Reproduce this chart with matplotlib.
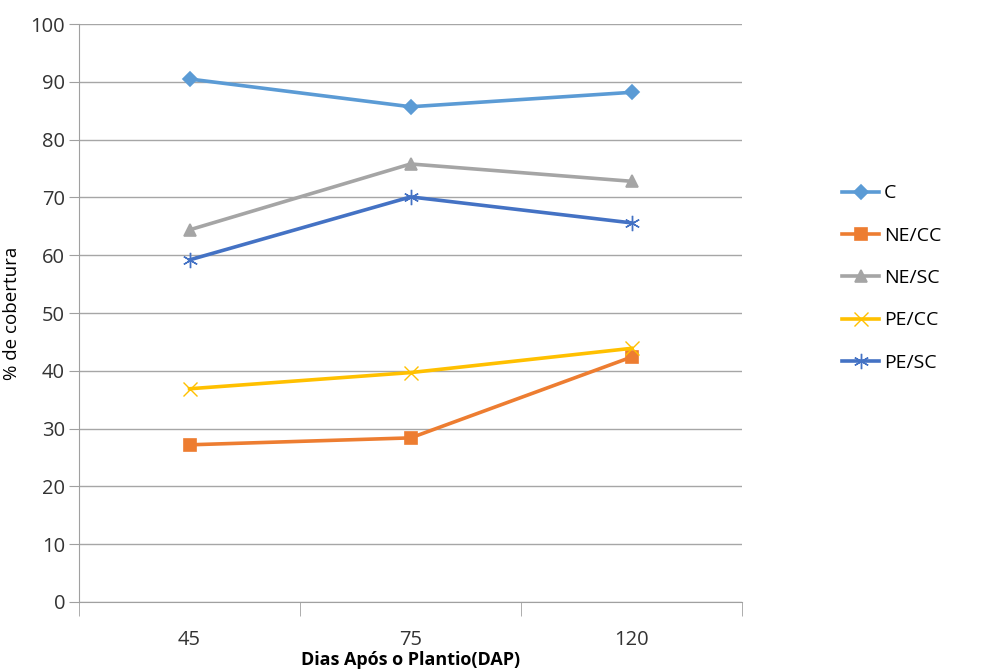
import numpy as np
import matplotlib.pyplot as plt
from matplotlib.lines import Line2D

days = ['45', '75', '120']
c_vals = [90.5, 85.7, 88.2]
ne_cc = [27.2, 28.4, 42.4]
ne_sc = [64.4, 75.8, 72.8]
pe_cc = [36.9, 39.7, 43.9]
pe_sc = [59.2, 70.1, 65.6]

# name, values, colour, marker, marker size, marker edge width
series = [
    ('C', c_vals, '#5B9BD5', 'D', 7, 1.2),
    ('NE/CC', ne_cc, '#ED7D31', 's', 9, 1.2),
    ('NE/SC', ne_sc, '#A5A5A5', '^', 9, 1.2),
    ('PE/CC', pe_cc, '#FFC000', 'x', 10, 1.0),
    ('PE/SC', pe_sc, '#4472C4', (6, 2, 0), 11, 1.0),
]

plt.rcParams['font.family'] = ['Open Sans', 'DejaVu Sans']

fig = plt.figure(figsize=(9.96, 6.70), dpi=100)
ax = fig.add_axes([0.0793, 0.1015, 0.666, 0.8625])

x = np.arange(len(days))
handles = []
for name, vals, col, mk, ms, mew in series:
    ax.plot(x, vals, color=col, lw=2.6, marker=mk, markersize=ms,
            markeredgewidth=mew, zorder=3)
    handles.append(Line2D([0], [0], color=col, lw=2.6, marker=mk,
                          markersize=ms, markeredgewidth=mew, label=name))

ax.set_xlim(-0.5, 2.5)
ax.set_ylim(0, 100)
ax.set_yticks(np.arange(0, 101, 10))
ax.set_xticks(x)
ax.set_xticklabels(days)
ax.set_xticks([-0.5, 0.5, 1.5, 2.5], minor=True)
ax.tick_params(axis='x', which='major', length=0, pad=20, labelsize=14.5)
ax.tick_params(axis='x', which='minor', length=10, color='#A0A0A0', direction='out')
ax.tick_params(axis='y', length=7, color='#A0A0A0', labelsize=14.5, pad=3)
ax.tick_params(axis='both', labelcolor='#333333')

ax.grid(axis='y', color='#A6A6A6', lw=1.0, zorder=0)
for s in ['top', 'right']:
    ax.spines[s].set_visible(False)
ax.spines['left'].set_color('#A0A0A0')
ax.spines['bottom'].set_color('#A0A0A0')

ax.set_xlabel('Dias Após o Plantio(DAP)', fontsize=13, fontweight='bold', labelpad=1)
ax.set_ylabel('% de cobertura', fontsize=13.5, labelpad=2)
ax.yaxis.set_label_coords(-0.088, 0.5)

fig.legend(handles=handles, loc='center left', bbox_to_anchor=(0.828, 0.585),
           frameon=False, fontsize=14, handlelength=1.9, labelspacing=1.25,
           handletextpad=0.25)

fig.savefig('out.png', dpi=100)
